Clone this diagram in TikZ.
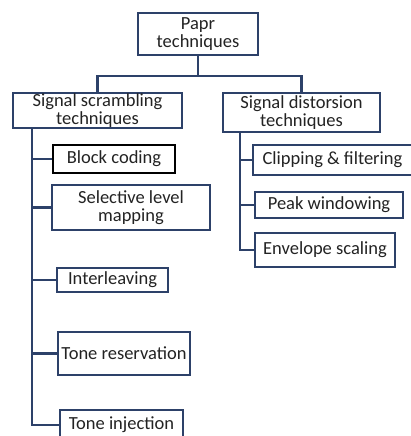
\documentclass[tikz,border=0pt]{standalone}
\usepackage{fontspec}
\setmainfont{Carlito}
\usetikzlibrary{backgrounds}
\definecolor{navy}{RGB}{45,65,105}
\definecolor{txt}{RGB}{35,35,35}
\begin{document}
\begin{tikzpicture}[x=1pt,y=-1pt,
  box/.style={draw=navy,line width=2.2pt,fill=white,text=txt,align=center,inner sep=0pt,font=\fontsize{18.5}{17.5}\selectfont},
  conn/.style={draw=navy,line width=2.2pt}]
\useasboundingbox (0,0) rectangle (411,436);
\coordinate (mid) at (198,76);
\coordinate (lt) at (32,128);
\coordinate (rt) at (240,132);
\node[box,minimum width=120pt,minimum height=42pt] (papr) at (198,34) {Papr\\techniques};
\node[box,minimum width=169pt,minimum height=35pt] (scr) at (97.5,110.5) {Signal scrambling\\techniques};
\node[box,minimum width=157pt,minimum height=39pt] (dis) at (301.5,112.5) {Signal distorsion\\techniques};
\node[box,draw=black,minimum width=122pt,minimum height=28pt] (bc) at (114,159) {Block coding};
\node[box,minimum width=158pt,minimum height=45pt] (slm) at (131,207.5) {Selective level\\mapping};
\node[box,minimum width=111pt,minimum height=24pt] (il) at (112.5,280) {Interleaving};
\node[box,minimum width=132pt,minimum height=43pt] (tr) at (124,353.5) {Tone reservation};
\node[box,minimum width=123pt,minimum height=30pt] (ti) at (121.5,425) {Tone injection};
\node[box,minimum width=159pt,minimum height=30pt] (cf) at (332.5,160) {Clipping \& filtering};
\node[box,minimum width=148pt,minimum height=26pt] (pw) at (329,205) {Peak windowing};
\node[box,minimum width=140pt,minimum height=34pt] (es) at (325,250) {Envelope scaling};
\begin{scope}[on background layer]
\draw[conn] (papr.south) -- (mid);
\draw[conn] (mid) -| (scr.north);
\draw[conn] (mid) -| (dis.north);
\draw[conn] (lt) |- (bc.west);
\draw[conn] (lt) |- (slm.west);
\draw[conn] (lt) |- (il.west);
\draw[conn] (lt) |- (tr.west);
\draw[conn] (lt) |- (ti.west);
\draw[conn] (rt) |- (cf.west);
\draw[conn] (rt) |- (pw.west);
\draw[conn] (rt) |- (es.west);
\end{scope}
\end{tikzpicture}
\end{document}
